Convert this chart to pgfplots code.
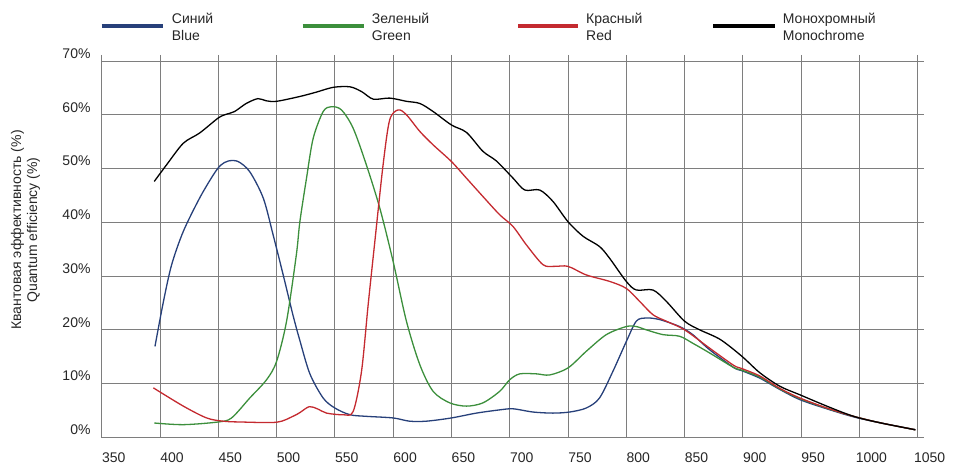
\documentclass[border=0pt]{standalone}
\usepackage{fontspec}
\setmainfont{Liberation Sans}
\usepackage{pgfplots}
\pgfplotsset{compat=1.18}
\definecolor{qblue}{HTML}{27407A}
\definecolor{qgreen}{HTML}{3C8F3C}
\definecolor{qred}{HTML}{C42A30}
\definecolor{gridgray}{HTML}{7E7E7E}
\begin{document}
\begin{tikzpicture}
\begin{axis}[
  scale only axis, width=816pt, height=376.3pt,
  xmin=350, xmax=1050, ymin=0, ymax=70,
  xtick={350,400,...,1050},
  xticklabels={350,400,450,500,550,600,650,700,750,800,850,900,950,1000,1050},
  ytick={0,10,...,70},
  yticklabels={0\%,10\%,20\%,30\%,40\%,50\%,60\%,70\%},
  xtick pos=right, xticklabel pos=left,
  ytick pos=right, yticklabel pos=left,
  tick align=outside, major tick length=6pt,
  tick style={gridgray, line width=0.8pt},
  grid=major, major grid style={gridgray, line width=0.8pt},
  axis line style={gridgray, line width=0.9pt},
  ticklabel style={font=\fontsize{14}{16}\selectfont, text=black!85},
  xticklabel style={anchor=center, inner sep=0pt, xshift=12pt, yshift=-14.2pt},
  yticklabel style={anchor=east, inner sep=0pt, xshift=-5pt, yshift=7.5pt},
  ylabel={Квантовая эффективность (\%)\\Quantum efficiency (\%)},
  every axis y label/.style={at={(axis description cs:-0.0934,0.551)}, anchor=center, rotate=90, align=center, font=\fontsize{14}{16}\selectfont, text=black!85},
]
\addplot[qblue, line width=1.3pt, smooth] coordinates {
(395.7,16.9) (403,25.3) (410,32.1) (420,38.3) (434,44.5) (445.7,48.8) (452,50.6)
(458.6,51.4) (467,51.3) (477,49.4) (488.6,44.5) (497,37.7) (505.7,30.2) (514,22.8)
(520,18.0) (528.6,11.8) (540,7.3) (550,5.45) (562.9,4.2) (577,3.9) (600,3.6)
(614,3.0) (628.6,3.0) (650,3.6) (671.4,4.5) (691.4,5.1) (702.9,5.3) (720,4.7)
(737,4.5) (751.4,4.7) (765.7,5.45) (777,7.3) (788.6,12.3) (800,17.8) (808.6,21.6)
(817,22.2) (828.6,21.9) (845.7,20.6) (857,19.1) (871.4,16.3) (892,13.0) (899,12.4)
(914.6,11.0) (931.7,8.9) (949,7.0) (972,5.3) (995,3.8) (1017.7,2.7) (1048,1.4)
};
\addplot[qgreen, line width=1.3pt, smooth] coordinates {
(395.1,2.66) (420,2.35) (450,2.85) (461.4,3.6) (477,7.3) (491.4,10.7) (500,14.1)
(508.6,21.6) (517,34.0) (520,40.1) (525.7,48.2) (531.4,55.6) (540,60.6) (547,61.5)
(555.7,60.9) (565.7,57.5) (577,50.7) (588.6,42.6) (600,32.7) (611.4,21.6) (622.9,13.5)
(634.3,8.55) (648.6,6.4) (662.9,5.8) (677,6.4) (691.4,8.55) (700,10.7) (708.6,11.8)
(722.9,11.8) (734.3,11.6) (750,12.9) (765.7,16.0) (782.9,19.1) (800,20.6) (808.6,20.6)
(817,20.0) (831.4,19.1) (845.7,18.8) (857,17.5) (871.4,15.7) (892,13.0) (899,12.5)
(914.6,11.2) (931.7,9.0) (949,7.2) (972,5.4) (995,3.9) (1017.7,2.7) (1048,1.4)
};
\addplot[qred, line width=1.3pt, smooth] coordinates {
(394.3,9.2) (420,5.8) (440,3.6) (454,3.0) (468.6,2.85) (500,2.8) (514,3.9)
(520,4.6) (528,5.7) (535,5.3) (542.9,4.5) (557,4.2) (565.7,4.8) (572.9,12.3)
(578.6,24.7) (584.3,36.4) (591.4,50.7) (597,59.0) (604.3,60.9) (611.4,60.0) (622.9,56.9)
(634.3,54.4) (650,51.3) (662.9,48.2) (677,44.8) (691.4,41.4) (702.9,39.2) (714.3,35.8)
(728.6,32.1) (738.6,31.8) (750,31.8) (765.7,30.2) (785.7,29.0) (800,27.7) (811.4,25.3)
(822.9,22.8) (834.3,21.6) (850,20.0) (871.4,16.6) (892,13.4) (899,12.8) (914.6,11.4)
(931.7,9.1) (949,7.3) (972,5.45) (995,3.9) (1017.7,2.7) (1048,1.4)
};
\addplot[black, line width=1.3pt, smooth] coordinates {
(395.1,47.6) (405.7,50.7) (420,54.7) (434,56.6) (450,59.4) (457,60.1) (464,60.6)
(474,62.1) (484,63.0) (491,62.6) (500,62.5) (520,63.4) (534,64.2) (548.6,65.1)
(562.9,65.2) (573,64.3) (583,62.9) (597,63.1) (611.4,62.5) (622.9,62.1) (634.3,60.6)
(650,58.1) (663,56.7) (677,53.2) (688.6,51.4) (702.9,48.2) (712.9,46.0) (725.7,46.0)
(737,43.9) (750,40.1) (762.9,37.4) (777,35.5) (785.7,33.3) (800,29.0) (808.6,27.4)
(822.9,27.4) (834.3,25.3) (850,21.6) (862.9,20.0) (880.6,18.2) (899,15.1) (914.6,12.0)
(931.7,9.5) (949,7.9) (972,5.8) (995,3.9) (1017.7,2.7) (1048,1.4)
};
\end{axis}
% legend
\begin{scope}[every node/.style={anchor=west, align=left, inner sep=0pt, font=\fontsize{14}{17}\selectfont, text=black!85}]
\draw[qblue, line width=3.6pt] (0pt,411.3pt) -- (61.6pt,411.3pt);
\node at (70pt,410.3pt) {Синий\\Blue};
\draw[qgreen, line width=3.6pt] (201pt,411.3pt) -- (262.3pt,411.3pt);
\node at (270pt,410.3pt) {Зеленый\\Green};
\draw[qred, line width=3.6pt] (416.6pt,411.3pt) -- (476.6pt,411.3pt);
\node at (484.3pt,410.3pt) {Красный\\Red};
\draw[black, line width=3.6pt] (611.6pt,411.3pt) -- (673.3pt,411.3pt);
\node at (681pt,410.3pt) {Монохромный\\Monochrome};
\end{scope}
\pgfresetboundingbox
\path[use as bounding box] (-101.7pt,-27.7pt) rectangle (861.3pt,437.3pt);
\end{tikzpicture}
\end{document}
